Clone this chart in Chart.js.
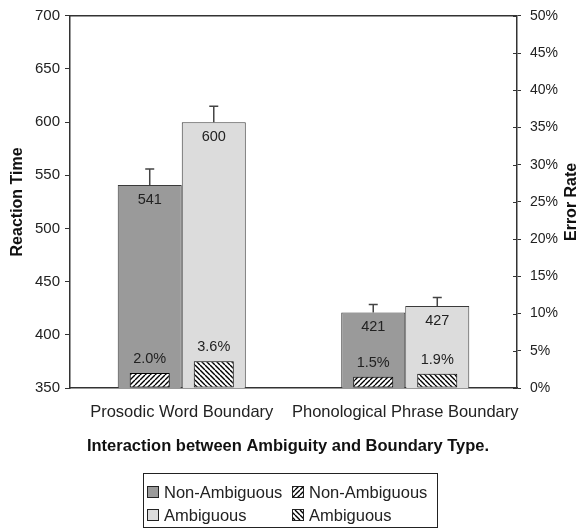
<!DOCTYPE html>
<html>
<head>
<meta charset="utf-8">
<script src="https://cdn.jsdelivr.net/npm/chart.js@4.4.1/dist/chart.umd.min.js"></script>
<style>
  html, body { margin: 0; padding: 0; background: #fff; }
  canvas { display: block; }
</style>
</head>
<body>
<canvas id="c" width="580" height="528"></canvas>
<script>
// ---- data ----
const categories = ['Prosodic Word Boundary', 'Phonological Phrase Boundary'];
const rtNonAmbiguous = [541, 421];
const rtAmbiguous = [600, 427];
const rtNonAmbiguousErr = [15, 7.5];
const rtAmbiguousErr = [15, 8];
const errNonAmbiguous = [2.0, 1.5];
const errAmbiguous = [3.6, 1.9];
const rtTickValues = [350, 400, 450, 500, 550, 600, 650, 700];
const errTickValues = [0, 5, 10, 15, 20, 25, 30, 35, 40, 45, 50];
const seriesLabels = ['Non-Ambiguous', 'Ambiguous'];
const chartTitle = 'Interaction between Ambiguity and Boundary Type.';
const errAxisTitle = 'Error Rate';

// ---- styling ----
const FONT = '"Liberation Sans", Arial, Helvetica, sans-serif';
const INK = '#222';
const AXIS = '#333';
const canvas = document.getElementById('c');
const ctx = canvas.getContext('2d');

function hatch(dir) {
  const s = 5;
  const tile = document.createElement('canvas');
  tile.width = s; tile.height = s;
  const g = tile.getContext('2d');
  g.fillStyle = '#fff';
  g.fillRect(0, 0, s, s);
  g.strokeStyle = '#000';
  g.lineWidth = 1.4;
  g.beginPath();
  for (const k of [-s, 0, s]) {
    if (dir === '/') { g.moveTo(k, s); g.lineTo(k + s, 0); }
    else { g.moveTo(k, 0); g.lineTo(k + s, s); }
  }
  g.stroke();
  return ctx.createPattern(tile, 'repeat');
}
const hatchFwd = hatch('/');
const hatchBack = hatch('\\');

const CAT_PCT = 0.573;

// error bars, value labels, frame, title and legend
const decorations = {
  id: 'decorations',
  afterDatasetsDraw(chart) {
    const c = chart.ctx;
    const area = chart.chartArea;
    const yR = chart.scales.yErr;
    c.save();
    // top frame line
    c.strokeStyle = AXIS;
    c.lineWidth = 1.5;
    c.beginPath();
    c.moveTo(area.left, area.top);
    c.lineTo(area.right, area.top);
    c.stroke();
    // inner half of the right-axis tick marks
    c.lineWidth = 1;
    c.beginPath();
    yR.ticks.forEach(t => {
      const py = Math.round(yR.getPixelForValue(t.value)) + 0.5;
      c.moveTo(area.right - 4, py);
      c.lineTo(area.right, py);
    });
    c.stroke();

    // right axis title, reading bottom to top
    c.save();
    c.translate(572, (area.top + area.bottom) / 2);
    c.rotate(-Math.PI / 2);
    c.fillStyle = '#111';
    c.font = 'bold 16px ' + FONT;
    c.textAlign = 'center';
    c.textBaseline = 'middle';
    c.fillText(errAxisTitle, 0, 0);
    c.restore();

    chart.data.datasets.forEach((ds, i) => {
      const meta = chart.getDatasetMeta(i);
      const ys = chart.scales[ds.yAxisID];
      meta.data.forEach((el, j) => {
        const v = ds.data[j];
        if (ds.errors) {
          const top = ys.getPixelForValue(v + ds.errors[j]);
          c.strokeStyle = '#444';
          c.lineWidth = 1.5;
          c.beginPath();
          c.moveTo(el.x, el.y);
          c.lineTo(el.x, top);
          c.moveTo(el.x - 4.5, top);
          c.lineTo(el.x + 4.5, top);
          c.stroke();
        }
        c.fillStyle = INK;
        c.font = '14.5px ' + FONT;
        c.textAlign = 'center';
        c.textBaseline = 'middle';
        if (ds.yAxisID === 'y') {
          c.fillText(String(v), el.x, el.y + 15);
        } else {
          c.fillText(v.toFixed(1) + '%', el.x, el.y - 14);
        }
      });
    });
    c.restore();
  },
  afterDraw(chart) {
    const c = chart.ctx;
    c.save();
    // title
    c.fillStyle = '#111';
    c.font = 'bold 16.5px ' + FONT;
    c.textAlign = 'center';
    c.textBaseline = 'middle';
    c.fillText(chartTitle, 288, 446);

    // legend box
    c.strokeStyle = '#222';
    c.lineWidth = 1;
    c.strokeRect(143.5, 473.5, 294, 54);
    const items = [
      { ds: 2, x: 147, y: 492 },
      { ds: 0, x: 292, y: 492 },
      { ds: 3, x: 147, y: 515 },
      { ds: 1, x: 292, y: 515 }
    ];
    c.font = '16.5px ' + FONT;
    c.textAlign = 'left';
    items.forEach(it => {
      const ds = chart.data.datasets[it.ds];
      c.fillStyle = ds.backgroundColor;
      c.fillRect(it.x, it.y - 6, 12, 12);
      c.strokeStyle = '#222';
      c.strokeRect(it.x + 0.5, it.y - 5.5, 11, 11);
      c.fillStyle = INK;
      c.fillText(ds.label, it.x + 17, it.y + 1);
    });
    c.restore();
  }
};

new Chart(ctx, {
  type: 'bar',
  data: {
    labels: categories,
    datasets: [
      { label: seriesLabels[0], data: errNonAmbiguous, yAxisID: 'yErr', stack: 'non',
        backgroundColor: hatchFwd, borderColor: '#000', borderWidth: 1, borderSkipped: false,
        barPercentage: 0.625, categoryPercentage: CAT_PCT },
      { label: seriesLabels[1], data: errAmbiguous, yAxisID: 'yErr', stack: 'amb',
        backgroundColor: hatchBack, borderColor: '#000', borderWidth: 1, borderSkipped: false,
        barPercentage: 0.625, categoryPercentage: CAT_PCT },
      { label: seriesLabels[0], data: rtNonAmbiguous, errors: rtNonAmbiguousErr, yAxisID: 'y', stack: 'non',
        backgroundColor: '#9a9a9a', borderColor: '#3a3a3a', borderWidth: 1, borderSkipped: false,
        barPercentage: 1, categoryPercentage: CAT_PCT },
      { label: seriesLabels[1], data: rtAmbiguous, errors: rtAmbiguousErr, yAxisID: 'y', stack: 'amb',
        backgroundColor: '#dcdcdc', borderColor: '#3a3a3a', borderWidth: 1, borderSkipped: false,
        barPercentage: 1, categoryPercentage: CAT_PCT }
    ]
  },
  options: {
    responsive: false,
    animation: false,
    events: [],
    layout: { padding: { top: 10, left: 0, right: 0, bottom: 0 } },
    plugins: { legend: { display: false }, tooltip: { enabled: false }, title: { display: false } },
    scales: {
      x: {
        grid: { display: false, drawTicks: false },
        border: { display: true, color: AXIS, width: 1.5 },
        ticks: { color: INK, font: { family: FONT, size: 16.5 }, padding: 15, maxRotation: 0, autoSkip: false },
        afterFit(s) { s.height = 140; }
      },
      y: {
        position: 'left',
        stacked: false,
        min: 350, max: 700,
        afterBuildTicks(s) { s.ticks = rtTickValues.map(v => ({ value: v })); },
        grid: { display: true, drawOnChartArea: false, drawTicks: true, tickLength: 5, color: AXIS, lineWidth: 1 },
        border: { display: true, color: AXIS, width: 1.5 },
        ticks: { color: INK, font: { family: FONT, size: 15, lineHeight: 0.9 }, padding: 5 },
        title: { display: true, text: 'Reaction Time', color: '#111',
                 font: { family: FONT, size: 16, weight: 'bold' }, padding: { top: 8, bottom: 0 } },
        afterFit(s) { s.width = 70; }
      },
      yErr: {
        position: 'right',
        stacked: false,
        min: 0, max: 50,
        afterBuildTicks(s) { s.ticks = errTickValues.map(v => ({ value: v })); },
        grid: { display: true, drawOnChartArea: false, drawTicks: true, tickLength: 4, color: AXIS, lineWidth: 1 },
        border: { display: true, color: AXIS, width: 1.5 },
        ticks: { color: INK, font: { family: FONT, size: 14, lineHeight: 0.97 }, padding: 9, callback: v => v + '%' },
        afterFit(s) { s.width = 63; }
      }
    }
  },
  plugins: [decorations]
});
</script>
</body>
</html>
